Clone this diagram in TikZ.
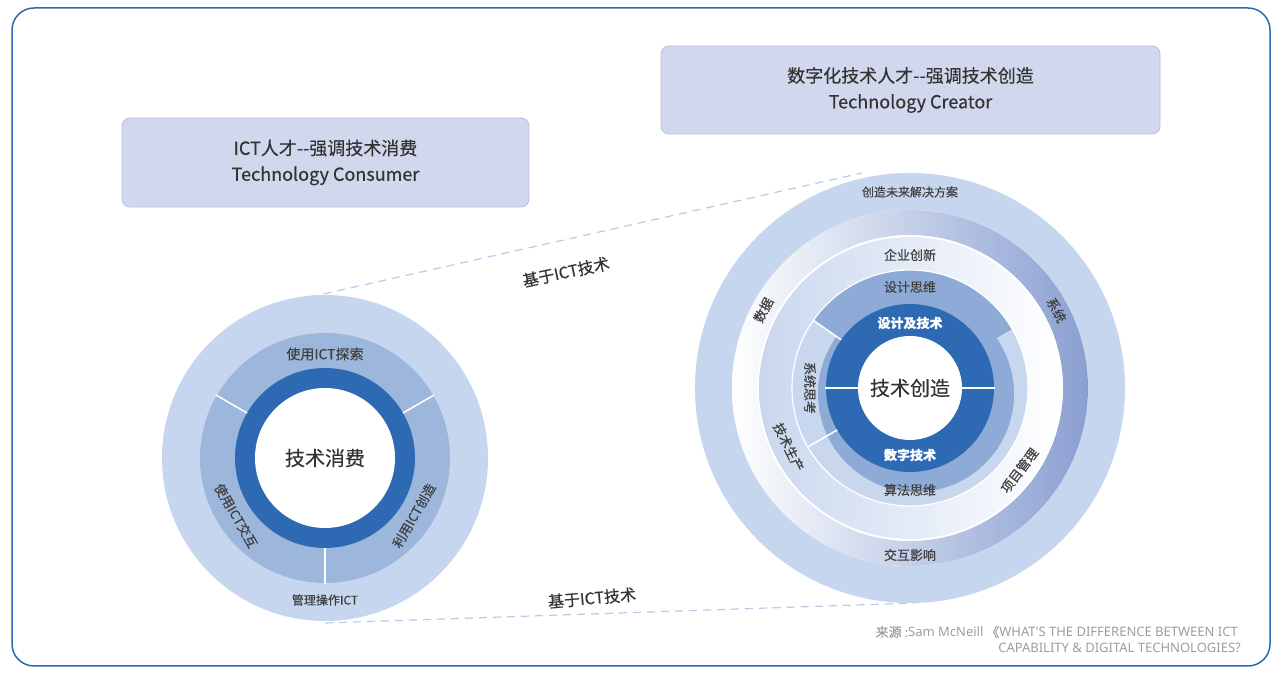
\documentclass[tikz,border=0pt]{standalone}
\usepackage{fontspec}
\setmainfont{Noto Sans CJK SC}[FakeBold=0.35]
\newfontfamily\latf{Noto Sans}
\usetikzlibrary{calc}
\begin{document}
\begin{tikzpicture}[x=1pt,y=1pt,
  lbl/.style={text=black!75,font=\fontsize{13}{15}\selectfont,inner sep=0},
  sml/.style={text=black!75,font=\fontsize{12}{14}\selectfont,inner sep=0},
  box/.style={draw=boxline,fill=boxfill,rounded corners=8pt,line width=0.8pt},
  dashln/.style={draw=dashc,dashed,dash pattern=on 8pt off 6pt,line width=1.2pt}]
\definecolor{frame}{HTML}{2E69B3}
\definecolor{boxfill}{HTML}{D1D8EE}
\definecolor{boxline}{HTML}{B3C0E2}
\definecolor{ringA}{HTML}{C6D6EE}
\definecolor{ringB}{HTML}{9DB6DC}
\definecolor{dark}{HTML}{2E69B3}
\definecolor{grad}{HTML}{8A9FD1}
\definecolor{midB}{HTML}{8EAAD6}
\definecolor{lightB}{HTML}{C9D7EE}
\definecolor{dashc}{HTML}{B8CCE8}
\useasboundingbox (0,0) rectangle (1280,674);
\fill[white] (0,0) rectangle (1280,674);
\draw[frame,line width=1.5pt,rounded corners=22pt] (12,8) rectangle (1270,666);
% boxes
\draw[box] (122,467) rectangle (529,556);
\node[text=black!80,font=\fontsize{18}{26}\selectfont,align=center] (lb) at (325.5,511.5) {ICT人才\symbol{45}\symbol{45}强调技术消费\\Technology Consumer};
\draw[box] (661,540) rectangle (1160,628);
\node[text=black!80,font=\fontsize{18}{26}\selectfont,align=center] (rb) at (910.5,584) {数字化技术人才\symbol{45}\symbol{45}强调技术创造\\Technology Creator};
% centers
\coordinate (L) at (325,216);
\coordinate (R) at (910,286);
% dashed connectors
\coordinate (lt) at (310,377);
\coordinate (rt) at (862,501);
\coordinate (lbo) at (325,51);
\coordinate (rbo) at (915,71);
\draw[dashln] (lt) -- (rt);
\draw[dashln] (lbo) -- (rbo);
\node[text=black!80,font=\fontsize{16}{18}\selectfont,rotate=12] (t1) at (566,402) {基于ICT技术};
\node[text=black!80,font=\fontsize{16}{18}\selectfont,rotate=5] (t2) at (592,76) {基于ICT技术};
% left circle
\fill[ringA] (L) circle (163pt);
\fill[ringB] (L) circle (125pt);
\fill[dark] (L) circle (90pt);
\fill[white] (L) circle (70pt);
\foreach \a in {30,150,270} \draw[white,line width=1.5pt] ($(L)+(\a:90pt)$) -- ($(L)+(\a:126pt)$);
\node[text=black!80,font=\fontsize{20}{22}\selectfont] (lc) at (L) {技术消费};
\node[lbl,font=\fontsize{14}{16}\selectfont] (l1) at ($(L)+(90:104pt)$) {使用ICT探索};
\node[lbl] (l2) at ($(L)+(213:106pt)$) [rotate=-60] {使用ICT交互};
\node[lbl] (l3) at ($(L)+(327:106pt)$) [rotate=60] {利用ICT创造};
\node[sml] (l4) at ($(L)+(270:142pt)$) {管理操作ICT};
% right circle
\fill[ringA] (R) circle (215pt);
\fill[white] (R) circle (178pt);
\shade[left color=white,right color=grad,even odd rule] (R) circle (178pt) (R) circle (153pt);
\shade[left color=lightB,right color=white,even odd rule] (R) circle (151pt) (R) circle (118pt);
\draw[white,line width=1.5pt] (R) circle (152pt);
\fill[lightB] (R) circle (118pt);
\fill[midB] (R) -- ($(R)+(30:118pt)$) arc (30:145:118pt) -- cycle;
\fill[midB] ($(R)+(6,-6)$) circle (98pt);
\draw[white,line width=1.2pt] (R) circle (118pt);
\fill[dark] (R) circle (84pt);
\fill[white] (R) circle (52pt);
\draw[white,line width=1.5pt] ($(R)+(-85,0)$) -- ($(R)+(-52,0)$);
\draw[white,line width=1.5pt] ($(R)+(52,0)$) -- ($(R)+(85,0)$);
\foreach \a in {145,210} \draw[white,line width=1.5pt] ($(R)+(\a:84pt)$) -- ($(R)+(\a:118pt)$);
\node[text=black!80,font=\fontsize{20}{22}\selectfont] (rc) at (R) {技术创造};
\node[text=white,font=\bfseries\fontsize{13}{15}\selectfont] (r1) at ($(R)+(90:65pt)$) {设计及技术};
\node[text=white,font=\bfseries\fontsize{13}{15}\selectfont] (r2) at ($(R)+(270:67pt)$) {数字技术};
\node[lbl] (r3) at ($(R)+(90:101pt)$) {设计思维};
\node[lbl,rotate=-90] (r4) at ($(R)+(180:100pt)$) {系统思考};
\node[lbl] (r5) at ($(R)+(270:102pt)$) {算法思维};
\node[lbl] (r6) at ($(R)+(90:133pt)$) {企业创新};
\node[lbl,rotate=-64] (r7) at ($(R)+(206:135pt)$) {技术生产};
\node[lbl,rotate=53] (r8) at ($(R)+(323:137pt)$) {项目管理};
\node[lbl,rotate=62] (r9) at ($(R)+(152:166pt)$) {数据};
\node[lbl,rotate=-62] (r10) at ($(R)+(28:166pt)$) {系统};
\node[lbl] (r11) at ($(R)+(270:167pt)$) {交互影响};
\node[sml] (r12) at ($(R)+(90:196pt)$) {创造未来解决方案};
% source
\node[anchor=east,text=black!38,font=\fontsize{13}{15}\selectfont,inner sep=0] (s1) at (1238,42) {来源 :{\latf Sam McNeill} 《{\latf WHAT\symbol{39}S THE DIFFERENCE BETWEEN ICT}};
\node[anchor=east,text=black!38,font=\fontsize{13}{15}\latf\selectfont,inner sep=0] (s2) at (1241,26) {CAPABILITY \& DIGITAL TECHNOLOGIES?};
\end{tikzpicture}
\end{document}
